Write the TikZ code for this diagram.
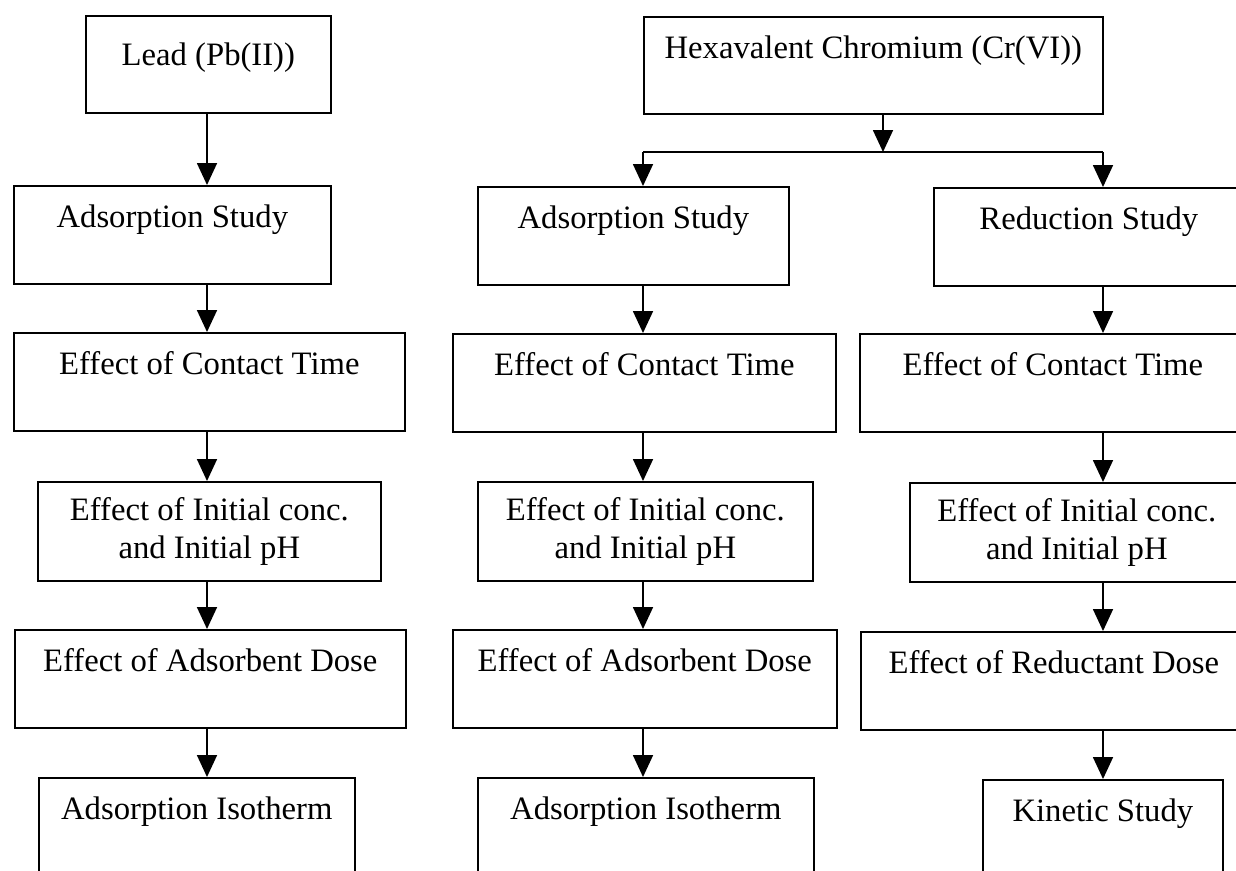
\documentclass[tikz,border=0pt]{standalone}
\usepackage{fontspec}
\setmainfont{Liberation Serif}
\usepackage{tikz}
\usetikzlibrary{arrows.meta}

\tikzset{
  box/.style={draw=black, line width=1pt, inner sep=0pt, anchor=north west,
    font=\fontsize{18.6}{21.8}\selectfont, text height=0.83cm, text depth=1.13cm},
  box2/.style={draw=black, line width=1pt, inner sep=0pt, anchor=north west,
    font=\fontsize{18.6}{21.8}\selectfont, minimum height=1.98cm, align=center},
  arr/.style={line width=1pt, -{Triangle[length=0.44cm,width=0.4cm]}}
}

\begin{document}
\begin{tikzpicture}[x=0.02cm,y=-0.02cm]
\useasboundingbox (0,0) rectangle (1236,870);
\clip (0,0) rectangle (1236,870);
\coordinate (cL) at (207,0);
\coordinate (cM) at (643,152);
\coordinate (cR) at (1103,152);
\coordinate (split) at (883,152);
\node (lead) at (85,15) [box, minimum width=4.9cm, text height=1.0cm, text depth=0.94cm] {Lead (Pb(II))};
\node (hex) at (643,16) [box, minimum width=9.18cm, text height=0.84cm, text depth=1.1cm] {Hexavalent Chromium (Cr(VI))};
\node (adsL) at (13,185) [box, minimum width=6.34cm] {Adsorption Study};
\node (ctL) at (13,332) [box, minimum width=7.82cm] {Effect of Contact Time};
\node (icL) at (37,481) [box2, minimum width=6.86cm] {Effect of Initial conc.\\and Initial pH};
\node (dsL) at (14,629) [box, minimum width=7.82cm] {Effect of Adsorbent Dose};
\node (isoL) at (38,777) [box, minimum width=6.32cm] {Adsorption Isotherm};
\node (adsM) at (477,186) [box, minimum width=6.22cm] {Adsorption Study};
\node (ctM) at (452,333) [box, minimum width=7.66cm] {Effect of Contact Time};
\node (icM) at (477,481) [box2, minimum width=6.7cm] {Effect of Initial conc.\\and Initial pH};
\node (dsM) at (452,629) [box, minimum width=7.68cm] {Effect of Adsorbent Dose};
\node (isoM) at (477,777) [box, minimum width=6.72cm] {Adsorption Isotherm};
\node (redR) at (933,187) [box, minimum width=6.2cm] {Reduction Study};
\node (ctR) at (859,333) [box, minimum width=7.72cm] {Effect of Contact Time};
\node (icR) at (909,482) [box2, minimum width=6.68cm] {Effect of Initial conc.\\and Initial pH};
\node (dsR) at (860,631) [box, minimum width=7.72cm] {Effect of Reductant Dose};
\node (kinR) at (982,779) [box, minimum width=4.8cm] {Kinetic Study};
\draw [arr] (lead.south -| cL) -- (adsL.north -| cL);
\draw [arr] (adsL.south -| cL) -- (ctL.north -| cL);
\draw [arr] (ctL.south -| cL) -- (icL.north -| cL);
\draw [arr] (icL.south -| cL) -- (dsL.north -| cL);
\draw [arr] (dsL.south -| cL) -- (isoL.north -| cL);
\draw [arr] (hex.south -| split) -- (split);
\draw [black, line width=1pt] (cM) -- (cR);
\draw [arr] (cM) -- (adsM.north -| cM);
\draw [arr] (adsM.south -| cM) -- (ctM.north -| cM);
\draw [arr] (ctM.south -| cM) -- (icM.north -| cM);
\draw [arr] (icM.south -| cM) -- (dsM.north -| cM);
\draw [arr] (dsM.south -| cM) -- (isoM.north -| cM);
\draw [arr] (cR) -- (redR.north -| cR);
\draw [arr] (redR.south -| cR) -- (ctR.north -| cR);
\draw [arr] (ctR.south -| cR) -- (icR.north -| cR);
\draw [arr] (icR.south -| cR) -- (dsR.north -| cR);
\draw [arr] (dsR.south -| cR) -- (kinR.north -| cR);
\end{tikzpicture}
\end{document}
